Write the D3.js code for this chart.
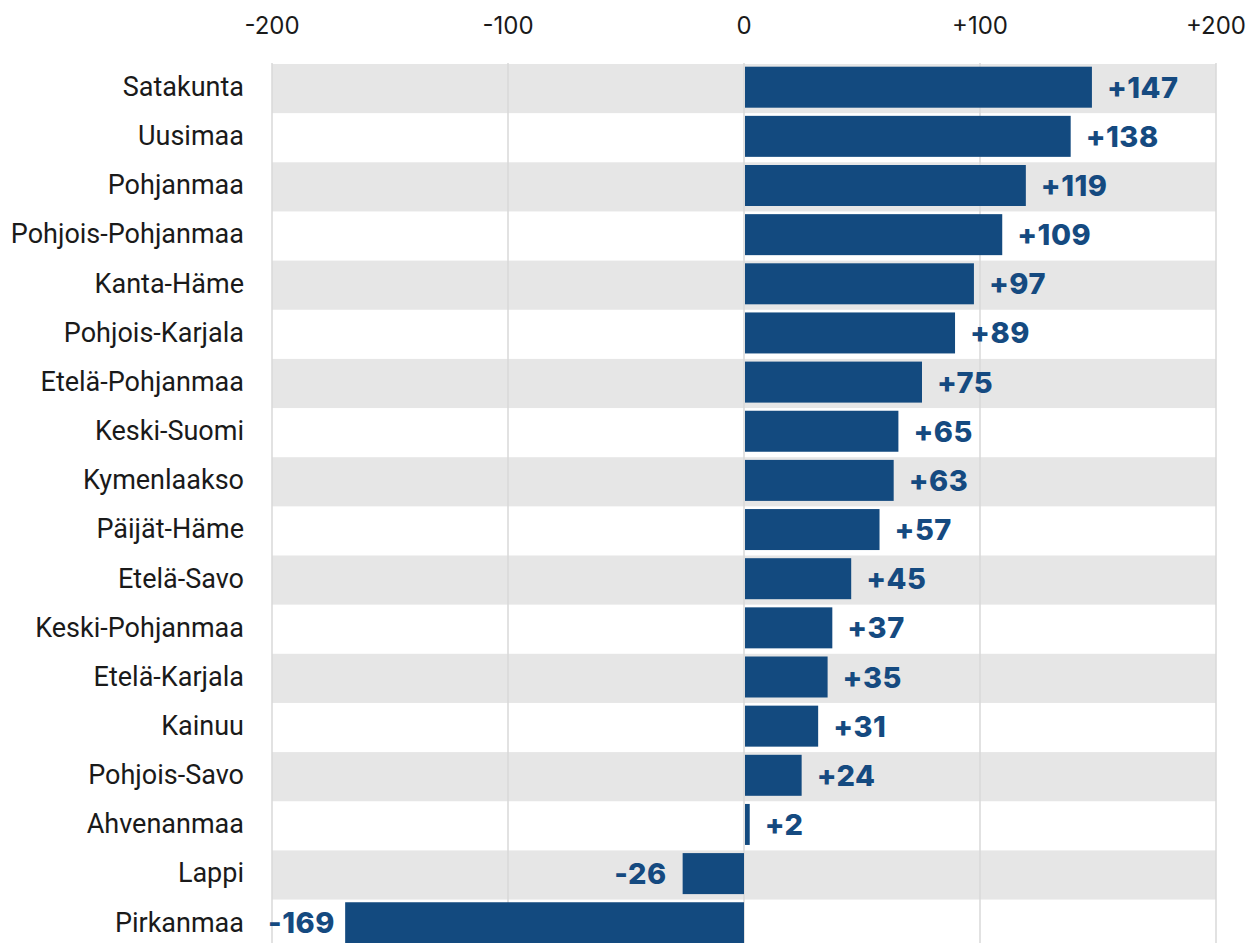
<!DOCTYPE html>
<html>
<head>
<meta charset="utf-8">
<script src="https://cdn.jsdelivr.net/npm/d3@7"></script>
<style>
  body { margin: 0; background: #fff; }
  text { font-family: Roboto, "Liberation Sans", sans-serif; }
</style>
</head>
<body>
<div id="chart"></div>
<script>
// regions, sorted by change
var regions = ["Satakunta", "Uusimaa", "Pohjanmaa", "Pohjois-Pohjanmaa", "Kanta-Häme",
	"Pohjois-Karjala", "Etelä-Pohjanmaa", "Keski-Suomi", "Kymenlaakso", "Päijät-Häme",
	"Etelä-Savo", "Keski-Pohjanmaa", "Etelä-Karjala", "Kainuu", "Pohjois-Savo",
	"Ahvenanmaa", "Lappi", "Pirkanmaa"];
var values = [147, 138, 119, 109, 97, 89, 75, 65, 63, 57, 45, 37, 35, 31, 24, 2, -26, -169];
var ticks = [-200, -100, 0, 100, 200];

var W = 1250, H = 943;
var rowH = 49.15;
var top0 = 64;

var svg = d3.select("#chart").append("svg")
	.attr("width", W)
	.attr("height", H);

var x = d3.scaleLinear().domain([-200, 200]).range([272, 1216]);
var y = d3.scaleBand().domain(regions).range([top0, top0 + rowH * regions.length]).padding(0);

var fmt = function(v) { return v > 0 ? "+" + v : "" + v; };

// alternating row bands
svg.selectAll("rect.band")
	.data(regions.filter(function(d, i) { return i % 2 == 0; }))
	.enter().append("rect")
		.attr("class", "band")
		.attr("x", x(-200))
		.attr("y", function(d) { return y(d); })
		.attr("width", x(200) - x(-200))
		.attr("height", y.bandwidth())
		.style("fill", "#e6e6e6");

// vertical grid
svg.selectAll("line.grid")
	.data(ticks)
	.enter().append("line")
		.attr("class", "grid")
		.attr("x1", function(d) { return x(d); })
		.attr("x2", function(d) { return x(d); })
		.attr("y1", top0 - 1)
		.attr("y2", H)
		.style("stroke", "#d9d9d9")
		.style("stroke-width", 1.5);

// top tick labels
svg.selectAll("text.tick")
	.data(ticks)
	.enter().append("text")
		.attr("class", "tick")
		.attr("x", function(d) { return x(d); })
		.attr("y", 34)
		.style("text-anchor", "middle")
		.style("font-family", "Inter, Roboto, sans-serif")
		.style("font-size", "24px")
		.style("fill", "#1a1a1a")
		.text(fmt);

var data = regions.map(function(r, i) { return {name: r, value: values[i]}; });

// bars
svg.selectAll("rect.bar")
	.data(data)
	.enter().append("rect")
		.attr("class", "bar")
		.attr("x", function(d) { return x(Math.min(0, d.value)) + (d.value > 0 ? 1 : 0); })
		.attr("y", function(d) { return y(d.name) + 2.7; })
		.attr("width", function(d) { return Math.abs(x(d.value) - x(0)); })
		.attr("height", 41)
		.style("fill", "#134a7f");

// category labels
svg.selectAll("text.cat")
	.data(data)
	.enter().append("text")
		.attr("class", "cat")
		.attr("x", 244)
		.attr("y", function(d) { return y(d.name) + y.bandwidth() / 2 - 2; })
		.attr("dy", "0.35em")
		.style("text-anchor", "end")
		.style("font-size", "27px")
		.style("fill", "#1a1a1a")
		.text(function(d) { return d.name; });

// value labels
var vals = svg.selectAll("text.val")
	.data(data)
	.enter().append("text")
		.attr("class", "val")
		.attr("x", function(d) { return d.value >= 0 ? x(d.value) + 16 : x(d.value) - 16; })
		.attr("y", function(d) { return y(d.name) + y.bandwidth() / 2 - 1; })
		.attr("dy", "0.35em")
		.style("text-anchor", function(d) { return d.value >= 0 ? "start" : "end"; })
		.style("font-family", "Inter, Roboto, sans-serif")
		.style("font-size", "29px")
		.style("font-weight", "800")
		.style("letter-spacing", "0.5px")
		.style("fill", "#154a80")
		.text(function(d) { return fmt(d.value); });

// keep negative labels inside the plot's left edge
vals.each(function(d) {
	if (d.value >= 0) return;
	var w = this.getComputedTextLength();
	var left = x(d.value) - 16 - w;
	if (left < x(-200) - 4) {
		d3.select(this).attr("x", x(-200) - 4 + w);
	}
});
</script>
</body>
</html>
